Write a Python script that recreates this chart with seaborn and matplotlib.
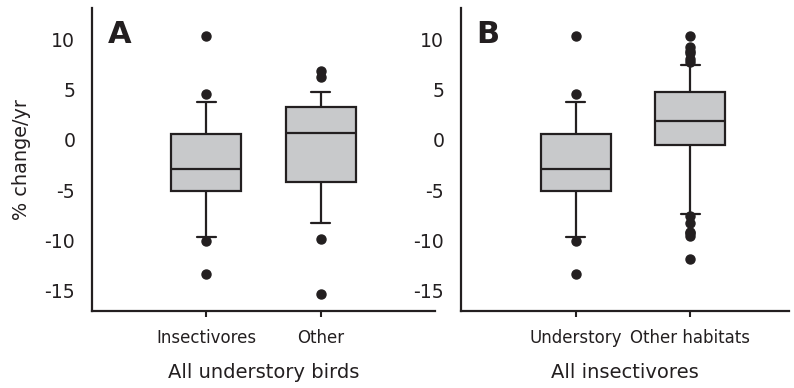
import pandas as pd
import numpy as np
import matplotlib.pyplot as plt
import seaborn as sns

# % change/yr values per group
insectivores = [-13.3, -10.1, -9.7, -8.2, -6.4, -5.1, -4.7, -4.1, -3.6, -3.2, -2.95,
                -2.4, -1.8, -0.9, 0.1, 0.57, 1.4, 2.6, 3.72, 4.55, 10.35]
other_diet = [-15.35, -9.86, -8.3, -6.9, -5.2, -4.18, -3.3, -2.1, -1.2, -0.3, 0.67,
              1.2, 1.8, 2.4, 2.9, 3.23, 3.7, 4.2, 4.75, 6.2, 6.84]
other_habitats = [-11.9, -9.6, -9.3, -9.15, -8.3, -7.6, -7.4, -6.5, -5.4, -4.6, -3.7,
                  -2.9, -2.1, -1.5, -0.9, -0.53, -0.3, -0.1, 0.1, 0.3, 0.5,
                  0.7, 0.9, 1.0, 1.1, 1.3, 1.4, 1.5, 1.6, 1.7, 1.83,
                  2.0, 2.2, 2.4, 2.6, 2.8, 3.0, 3.2, 3.4, 3.6, 3.8,
                  4.0, 4.2, 4.4, 4.6, 4.72, 5.0, 5.3, 5.6, 5.9, 6.2,
                  6.5, 6.8, 7.1, 7.4, 7.7, 8.0, 8.6, 8.8, 9.2, 10.35]

labels_a = ['Insectivores', 'Other']
labels_b = ['Understory', 'Other habitats']
yticks = [10, 5, 0, -5, -10, -15]

df_a = pd.DataFrame({'group': [labels_a[0]] * len(insectivores) + [labels_a[1]] * len(other_diet),
                     'value': insectivores + other_diet})
df_b = pd.DataFrame({'group': [labels_b[0]] * len(insectivores) + [labels_b[1]] * len(other_habitats),
                     'value': insectivores + other_habitats})

sns.set_style('white')
plt.rcParams['font.family'] = ['DejaVu Sans']

dark = '#231f20'
fig = plt.figure(figsize=(7.94, 3.88), dpi=100)
ax_a = fig.add_axes([0.1159, 0.1992, 0.432, 0.780])
ax_b = fig.add_axes([0.5806, 0.1992, 0.413, 0.780])

box_kws = dict(x='group', y='value', whis=(10, 90), width=0.61, color='#c8c9cb',
               saturation=1, linecolor=dark, linewidth=1.6,
               flierprops=dict(marker='o', markerfacecolor=dark, markeredgecolor=dark,
                               markersize=6.5),
               capwidths=0.17)

for ax, df, order, letter, xlab, xmax in [
        (ax_a, df_a, labels_a, 'A', 'All understory birds', 2.0),
        (ax_b, df_b, labels_b, 'B', 'All insectivores', 1.86)]:
    sns.boxplot(data=df, order=order, ax=ax, **box_kws)
    ax.set_xlim(-1, xmax)
    ax.set_ylim(-17, 13.1)
    ax.set_yticks(yticks)
    ax.set_yticklabels([str(t) for t in yticks])
    ax.tick_params(axis='y', length=0, pad=12, labelsize=13.6, colors=dark)
    ax.tick_params(axis='x', length=4, width=1.5, pad=9, labelsize=12, colors=dark,
                   direction='out', bottom=True)
    for s in ['top', 'right']:
        ax.spines[s].set_visible(False)
    for s in ['left', 'bottom']:
        ax.spines[s].set_linewidth(1.6)
        ax.spines[s].set_color(dark)
    ax.set_xlabel(xlab, fontsize=14, color=dark, labelpad=12)
    ax.set_ylabel('')
    ax.text(0.045, 0.96, letter, transform=ax.transAxes, fontsize=22, fontweight='bold',
            color=dark, va='top', ha='left')

ax_a.set_ylabel('% change/yr', fontsize=13.9, color=dark, labelpad=10)

plt.savefig('out.png', dpi=100)
